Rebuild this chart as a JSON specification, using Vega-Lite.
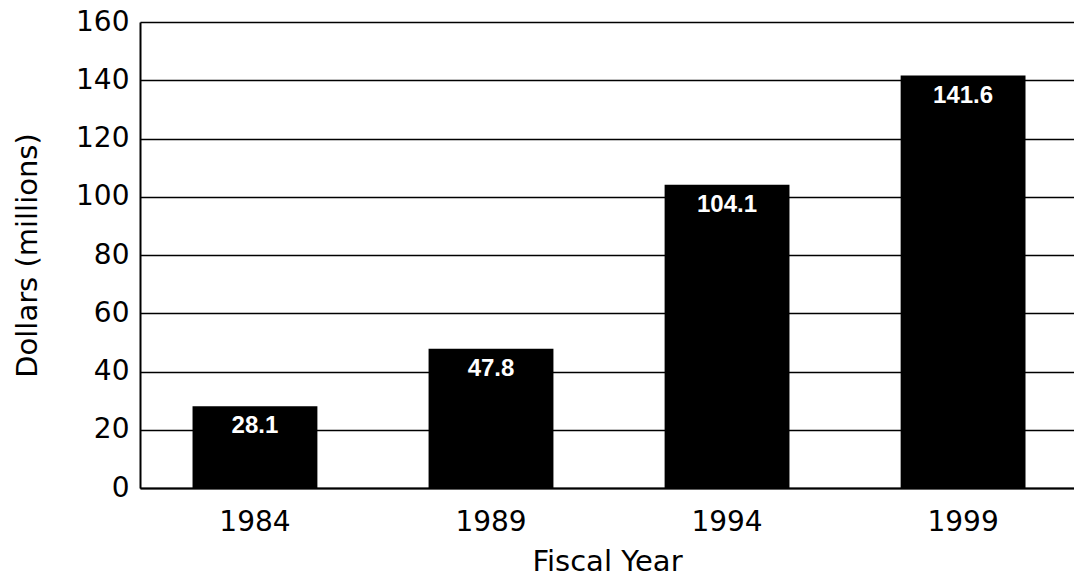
{
  "$schema": "https://vega.github.io/schema/vega-lite/v6.json",
  "width": 934,
  "height": 466,
  "autosize": "none",
  "padding": {"left": 140, "top": 22, "right": 0, "bottom": 94},
  "background": "white",
  "config": {
    "view": {"stroke": null},
    "font": "DejaVu Sans"
  },
  "data": {
    "values": [
      {"year": "1984", "value": 28.1},
      {"year": "1989", "value": 47.8},
      {"year": "1994", "value": 104.1},
      {"year": "1999", "value": 141.6}
    ]
  },
  "encoding": {
    "x": {
      "field": "year",
      "type": "nominal",
      "sort": null,
      "scale": {"paddingInner": 0.471, "paddingOuter": 0.214, "align": 0.52},
      "axis": {
        "title": "Fiscal Year",
        "titleFont": "DejaVu Sans",
        "titleFontSize": 29,
        "titleFontWeight": "normal",
        "titleColor": "black",
        "titlePadding": 11,
        "labelFont": "DejaVu Sans",
        "labelFontSize": 28,
        "labelColor": "black",
        "labelAngle": 0,
        "labelPadding": 20,
        "ticks": false,
        "domainColor": "black",
        "domainWidth": 2,
        "grid": false
      }
    },
    "y": {
      "field": "value",
      "type": "quantitative",
      "scale": {"domain": [0, 160], "nice": false},
      "axis": {
        "title": "Dollars (millions)",
        "titleFont": "DejaVu Sans",
        "titleFontSize": 29,
        "titleFontWeight": "normal",
        "titleColor": "black",
        "titlePadding": 33,
        "values": [0, 20, 40, 60, 80, 100, 120, 140, 160],
        "labelFont": "DejaVu Sans",
        "labelFontSize": 28,
        "labelColor": "black",
        "labelPadding": 11,
        "ticks": false,
        "domainColor": "black",
        "domainWidth": 2,
        "grid": true,
        "gridColor": "black",
        "gridWidth": 1.5,
        "gridOpacity": 1
      }
    }
  },
  "layer": [
    {"mark": {"type": "bar", "color": "black"}},
    {
      "mark": {
        "type": "text",
        "color": "white",
        "fontWeight": "bold",
        "fontSize": 24,
        "font": "Liberation Sans",
        "baseline": "top",
        "dy": 8
      },
      "encoding": {"text": {"field": "value", "type": "quantitative", "format": ".1f"}}
    }
  ]
}
